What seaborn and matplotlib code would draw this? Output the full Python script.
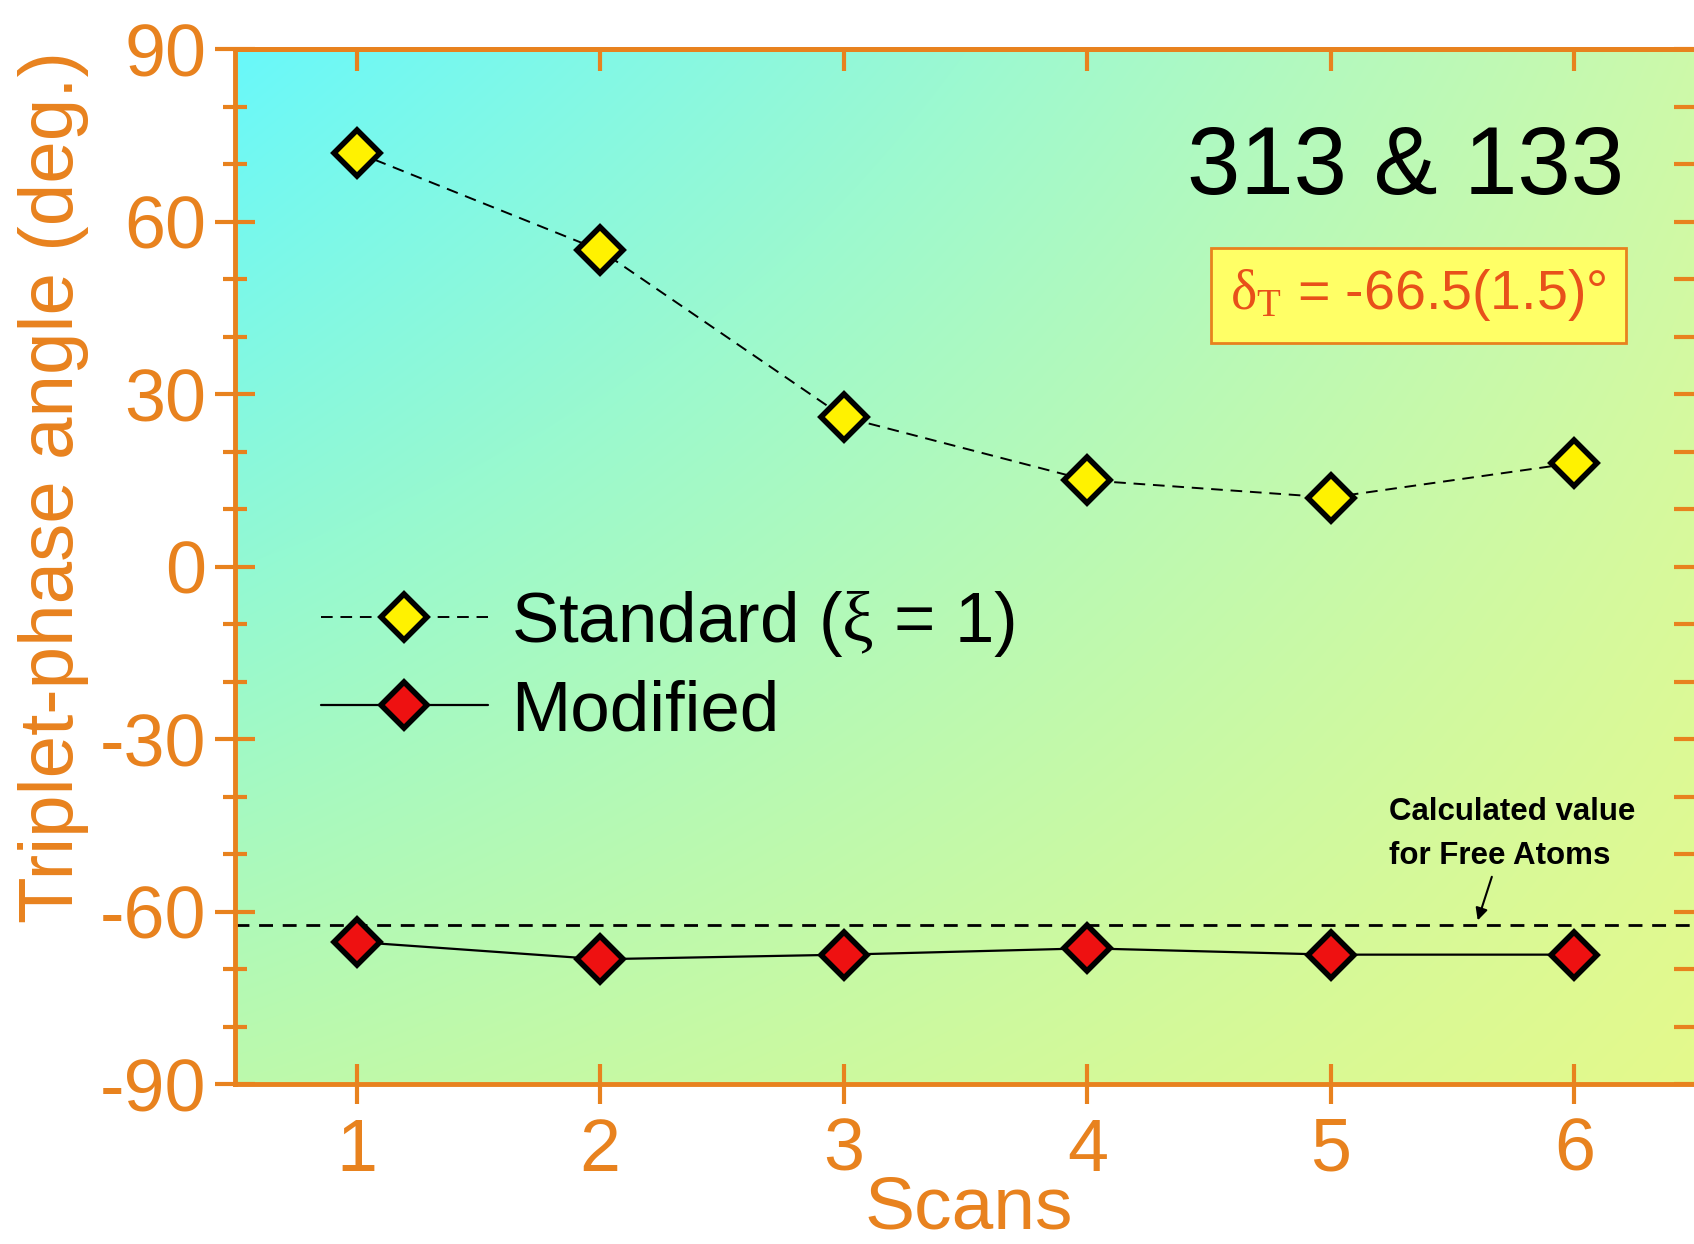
import numpy as np
import pandas as pd
import matplotlib
matplotlib.use('Agg')
import matplotlib.pyplot as plt
import seaborn as sns
from matplotlib.ticker import MultipleLocator

# ---- data ----
scans = [1, 2, 3, 4, 5, 6]
standard = [72, 55, 26, 15, 12, 18]
modified = [-65.3, -68.3, -67.5, -66.4, -67.5, -67.5]
free_atom_value = -62.4
x_ticks = [1, 2, 3, 4, 5, 6]
y_ticks = [-90, -60, -30, 0, 30, 60, 90]
standard_label = 'Standard ($\\mathrm{\\xi}$ = 1)'
modified_label = 'Modified'
title_text = '313 & 133'
box_text = '$\\mathrm{\\delta_T}$ = -66.5(1.5)°'
note_text = 'Calculated value\nfor Free Atoms'

sns.set_theme(style='white')
plt.rcParams['font.family'] = ['Liberation Sans', 'DejaVu Sans']
plt.rcParams['mathtext.fontset'] = 'custom'
plt.rcParams['mathtext.rm'] = 'Liberation Serif'
plt.rcParams['mathtext.it'] = 'Liberation Serif:italic'
plt.rcParams['axes.unicode_minus'] = False

ORANGE = '#E8821E'
fig = plt.figure(figsize=(16.94, 12.44), dpi=100)
fig.patch.set_facecolor('white')
ax = fig.add_axes([0.1387, 0.1286, 0.8625, 0.832])

# background gradient (decoration)
ny, nx = 120, 160
u = np.linspace(0, 1, nx)[None, :, None]
v = np.linspace(0, 1, ny)[:, None, None]
tl = np.array([105, 248, 250]) / 255
tr = np.array([205, 250, 170]) / 255
bl = np.array([188, 250, 172]) / 255
br = np.array([228, 250, 140]) / 255
grad = (1 - v) * ((1 - u) * tl + u * tr) + v * ((1 - u) * bl + u * br)
ax.imshow(grad, extent=[0, 1, 0, 1], transform=ax.transAxes, aspect='auto',
          interpolation='bilinear', zorder=0)

df_std = pd.DataFrame({'Scan': scans, 'Angle': standard})
df_mod = pd.DataFrame({'Scan': scans, 'Angle': modified})

ax.axhline(free_atom_value, color='black', linewidth=2.0, linestyle=(0, (5, 3.5)), zorder=2)

sns.lineplot(data=df_std, x='Scan', y='Angle', ax=ax, color='black', linewidth=1.4,
             linestyle=(0, (6, 4)), marker='D', markersize=23, markerfacecolor='#FFF200',
             markeredgecolor='black', markeredgewidth=4, label=standard_label, zorder=5)
sns.lineplot(data=df_mod, x='Scan', y='Angle', ax=ax, color='black', linewidth=1.6,
             linestyle='-', marker='D', markersize=23, markerfacecolor='#EE1111',
             markeredgecolor='black', markeredgewidth=4, label=modified_label, zorder=5)

ax.set_xlim(0.5, 6.5)
ax.set_ylim(-90, 90)
ax.set_xticks(x_ticks)
ax.set_yticks(y_ticks)
ax.yaxis.set_minor_locator(MultipleLocator(10))
ax.tick_params(axis='both', which='major', direction='inout', length=29, width=3,
               color=ORANGE, labelcolor=ORANGE, labelsize=53, bottom=True, left=True)
ax.tick_params(axis='x', pad=9)
ax.tick_params(axis='y', pad=6)
ax.tick_params(axis='y', which='minor', direction='inout', length=17, width=3,
               color=ORANGE, left=True)
for s in ax.spines.values():
    s.set_color(ORANGE)
    s.set_linewidth(3.5)

secx = ax.secondary_xaxis('top')
secx.set_xticks(x_ticks)
secx.tick_params(direction='in', length=16, width=3, color=ORANGE, top=True, labeltop=False)
for s in secx.spines.values():
    s.set_color(ORANGE)
    s.set_linewidth(3.5)
secy = ax.secondary_yaxis('right')
secy.set_yticks(y_ticks)
secy.yaxis.set_minor_locator(MultipleLocator(10))
secy.tick_params(which='both', direction='in', length=16, width=3, color=ORANGE,
                 right=True, labelright=False)
for s in secy.spines.values():
    s.set_color(ORANGE)
    s.set_linewidth(3.5)

ax.set_xlabel('Scans', fontsize=54, color=ORANGE)
ax.xaxis.set_label_coords(0.502, -0.087)
ax.set_ylabel('Triplet-phase angle (deg.)', fontsize=55, color=ORANGE)
ax.yaxis.set_label_coords(-0.10, 0.577)

ax.text(0.951, 0.884, title_text, transform=ax.transAxes, ha='right', va='center',
        fontsize=69, color='black', zorder=6)
ax.text(0.810, 0.762, box_text, transform=ax.transAxes, ha='center', va='center',
        fontsize=40, color='#E8501A', zorder=6,
        bbox=dict(boxstyle='square,pad=0.35', fc='#FFFF66', ec=ORANGE, lw=2))
ax.text(0.790, 0.277, note_text, transform=ax.transAxes, ha='left', va='top',
        fontsize=22.5, fontweight='bold', color='black', linespacing=1.6, zorder=6)
ax.annotate('', xy=(5.60, -62.0), xytext=(5.665, -53.5),
            arrowprops=dict(arrowstyle='-|>', color='black', lw=1.5, mutation_scale=18),
            zorder=6)

leg = ax.legend(loc='upper left', bbox_to_anchor=(0.059, 0.478), frameon=False,
                fontsize=51, handlelength=2.35, handletextpad=0.33, labelspacing=0.28,
                borderpad=0, borderaxespad=0)
for t in leg.get_texts():
    t.set_color('black')

fig.savefig('out.png', dpi=100)
